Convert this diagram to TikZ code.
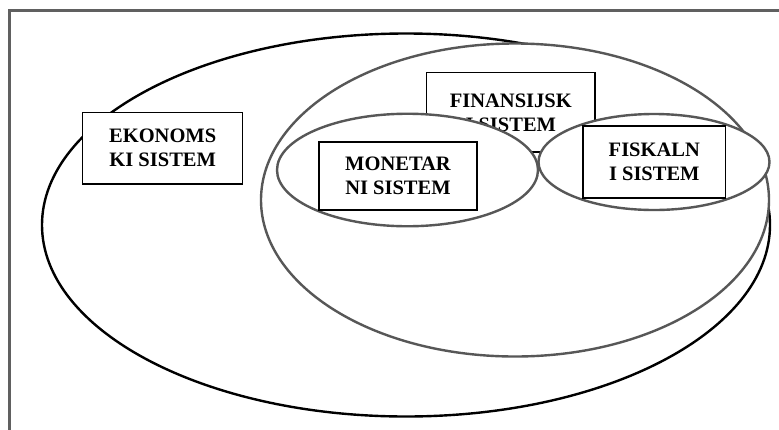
\documentclass[tikz,border=0pt]{standalone}
\usepackage{fontspec}
\setmainfont{Liberation Serif}
\usetikzlibrary{shapes.geometric}
\definecolor{framegray}{HTML}{606060}
\definecolor{ellgray}{HTML}{575757}
\tikzset{
  oval/.style={ellipse, draw=ellgray, line width=2.4pt, fill=white, inner sep=0pt, outer sep=0pt},
  bigoval/.style={ellipse, draw=black, line width=2.4pt, fill=white, inner sep=0pt, outer sep=0pt},
  labelbox/.style={rectangle, draw=black, line width=1.3pt, fill=white, inner sep=0pt, outer sep=0pt,
     align=center, font=\fontsize{20.5}{24}\selectfont\bfseries},
}
\begin{document}
\begin{tikzpicture}[x=1pt,y=-1pt]
\useasboundingbox (0,0) rectangle (779,429);
% frame (only top and left edges visible)
\draw[framegray, line width=3pt] (9,435) -- (9,10.5) -- (785,10.5);
% economy
\node[bigoval, minimum width=728pt, minimum height=383pt] (eko) at (406,225) {};
\node[labelbox, minimum width=160pt, minimum height=71.7pt] (ekobox) at (162.7,148.2) {EKONOMS\\KI SISTEM};
% financial
\node[oval, minimum width=508pt, minimum height=313pt] (fin) at (515,200) {};
\node[labelbox, minimum width=168.3pt, minimum height=79.3pt] (finbox) at (510.8,112.4) {FINANSIJSK\\I SISTEM};
% monetary and fiscal
\node[oval, minimum width=261pt, minimum height=112.5pt] (mon) at (407.5,170) {};
\node[oval, minimum width=231pt, minimum height=96pt] (fis) at (654,162) {};
\node[labelbox, minimum width=158pt, minimum height=68pt] (monbox) at (398,176) {MONETAR\\NI SISTEM};
\node[labelbox, minimum width=142.7pt, minimum height=72pt] (fisbox) at (654.3,162) {FISKALN\\I SISTEM};
\end{tikzpicture}
\end{document}
